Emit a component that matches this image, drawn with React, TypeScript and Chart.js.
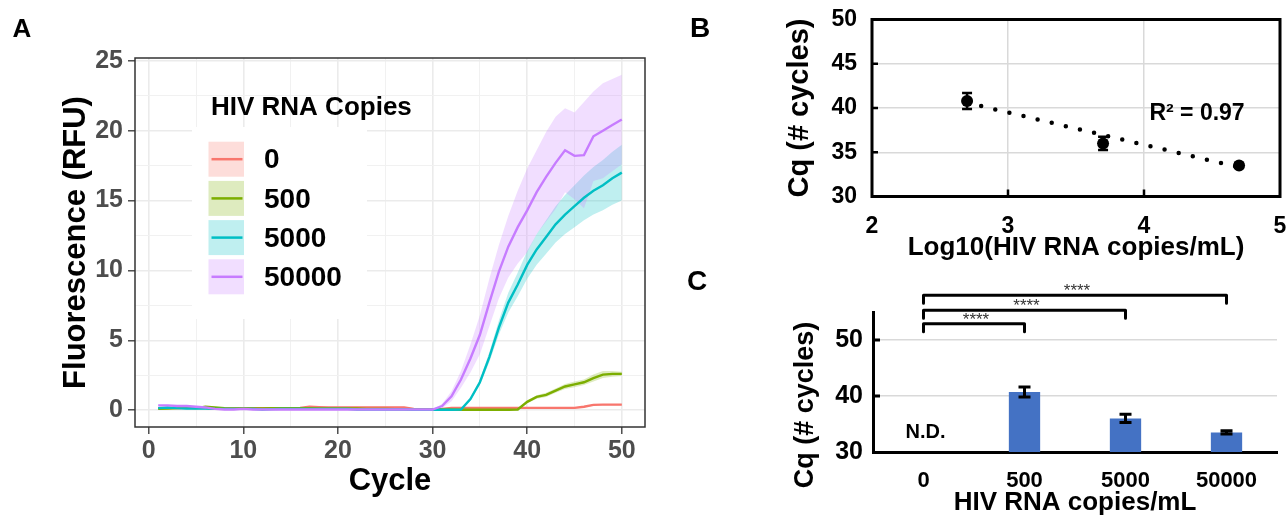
import React, { useEffect, useRef } from 'react';
import { Chart, registerables } from 'chart.js';

Chart.register(...registerables);

const FAMILY = "'Liberation Sans', Arial, Helvetica, sans-serif";

// ---------------- Panel A data ----------------
const cycles = [
  1, 2, 3, 4, 5, 6, 7, 8, 9, 10,
  11, 12, 13, 14, 15, 16, 17, 18, 19, 20,
  21, 22, 23, 24, 25, 26, 27, 28, 29, 30,
  31, 32, 33, 34, 35, 36, 37, 38, 39, 40,
  41, 42, 43, 44, 45, 46, 47, 48, 49, 50,
];
const seriesNames = ['0', '500', '5000', '50000'];
const legendTitle = 'HIV RNA Copies';

const rfu0 = [
  0.15, 0.15, 0.15, 0.15, 0.15, 0.15, 0.12, 0.12, 0.12, 0.14,
  0.14, 0.14, 0.14, 0.14, 0.15, 0.16, 0.25, 0.22, 0.2, 0.2,
  0.2, 0.2, 0.2, 0.2, 0.2, 0.2, 0.2, 0.1, 0.08, 0.08,
  0.1, 0.17, 0.17, 0.17, 0.17, 0.17, 0.17, 0.17, 0.17, 0.17,
  0.17, 0.17, 0.17, 0.17, 0.17, 0.25, 0.38, 0.4, 0.4, 0.4,
];
const rfu500 = [
  0.1, 0.12, 0.15, 0.2, 0.15, 0.25, 0.2, 0.15, 0.12, 0.12,
  0.12, 0.12, 0.15, 0.15, 0.15, 0.15, 0.15, 0.12, 0.12, 0.12,
  0.12, 0.12, 0.1, 0.1, 0.1, 0.08, 0.08, 0.05, 0.05, 0.05,
  0.05, 0.05, 0.03, 0.03, 0.03, 0.03, 0.03, 0.03, 0.05, 0.6,
  0.95, 1.1, 1.4, 1.7, 1.85, 2.0, 2.3, 2.55, 2.6, 2.6,
];
const rfu5000 = [
  0.15, 0.2, 0.15, 0.12, 0.12, 0.12, 0.1, 0.1, 0.1, 0.1,
  0.1, 0.05, 0.08, 0.1, 0.1, 0.1, 0.1, 0.1, 0.1, 0.1,
  0.1, 0.05, 0.05, 0.05, 0.05, 0.05, 0.05, 0.03, 0.03, 0.03,
  0.03, 0.03, 0.05, 0.8, 2.0, 3.8, 5.9, 7.7, 9.0, 10.4,
  11.5, 12.4, 13.3, 14.0, 14.6, 15.2, 15.7, 16.1, 16.6, 17.0,
];
const rfu50000 = [
  0.35, 0.35, 0.3, 0.3, 0.25, 0.2, 0.1, 0.05, 0.05, 0.1,
  0.05, 0.05, 0.05, 0.05, 0.05, 0.05, 0.05, 0.05, 0.05, 0.05,
  0.05, 0.05, 0.05, 0.05, 0.05, 0.05, 0.05, 0.05, 0.05, 0.05,
  0.3, 1.0, 2.2, 3.7, 5.4, 7.7, 9.9, 11.7, 13.1, 14.3,
  15.6, 16.7, 17.7, 18.6, 18.2, 18.25, 19.6, 20.0, 20.4, 20.8,
];
const sd0 = [
  0.04, 0.04, 0.04, 0.04, 0.04, 0.04, 0.04, 0.04, 0.04, 0.04,
  0.04, 0.04, 0.04, 0.04, 0.04, 0.04, 0.04, 0.04, 0.04, 0.04,
  0.04, 0.04, 0.04, 0.04, 0.04, 0.04, 0.04, 0.04, 0.04, 0.04,
  0.04, 0.04, 0.04, 0.04, 0.04, 0.04, 0.04, 0.04, 0.04, 0.04,
  0.04, 0.04, 0.04, 0.04, 0.04, 0.05, 0.05, 0.05, 0.05, 0.05,
];
const sd500 = [
  0, 0, 0, 0, 0, 0, 0, 0, 0, 0,
  0, 0, 0, 0, 0, 0, 0, 0, 0, 0,
  0, 0, 0, 0, 0, 0, 0, 0, 0, 0,
  0, 0, 0, 0, 0, 0, 0, 0, 0.02, 0.1,
  0.12, 0.15, 0.15, 0.18, 0.2, 0.2, 0.25, 0.25, 0.2, 0.15,
];
const sd5000 = [
  0, 0, 0, 0, 0, 0, 0, 0, 0, 0,
  0, 0, 0, 0, 0, 0, 0, 0, 0, 0,
  0, 0, 0, 0, 0, 0, 0, 0, 0, 0,
  0, 0, 0, 0.1, 0.2, 0.35, 0.5, 0.7, 0.85, 1.0,
  1.1, 1.2, 1.3, 1.4, 1.5, 1.6, 1.7, 1.8, 1.9, 2.0,
];
const sd50000 = [
  0, 0, 0, 0, 0, 0, 0, 0, 0, 0,
  0, 0, 0, 0, 0, 0, 0, 0, 0, 0,
  0, 0, 0, 0, 0, 0, 0, 0, 0, 0,
  0.15, 0.35, 0.6, 1.0, 1.4, 1.7, 1.9, 2.2, 2.6, 3.0,
  3.0, 3.2, 3.3, 3.0, 3.1, 3.8, 3.2, 3.4, 3.3, 3.2,
];
const xTicksA = [0, 5, 10, 15, 20, 25, 30, 35, 40, 45, 50];
const yTicksA = [0, 2.5, 5, 7.5, 10, 12.5, 15, 17.5, 20, 22.5, 25];

// ---------------- Panel B data ----------------
const logCopies = [2.699, 3.699, 4.699];
const cqMeanB = [40.8, 36.0, 33.5];
const cqErrB = [0.9, 0.75, 0.25];
const trendX = [2.699, 4.699];
const trendY = [40.6, 33.3];
const xTicksB = [2, 3, 4, 5];
const yTicksB = [30, 35, 40, 45, 50];
const r2Label = 'R\u00B2 = 0.97';
const r2At = [4.39, 39.4];

// ---------------- Panel C data ----------------
const copyLabels = ['0', '500', '5000', '50000'];
const cqMeanC = [null, 40.7, 36.0, 33.5];
const cqErrC = [0, 0.9, 0.75, 0.3];
const yTicksC = [30, 40, 50];
const bracketTo = [1, 2, 3];
const bracketLevel = [52.9, 55.3, 58.0];
const bracketText = ['****', '****', '****'];
const ndLabel = 'N.D.';
const ndLevel = 33.4;

// ---------------- styles ----------------
const lineColors = ['#F8766D', '#7CAE00', '#00BFC4', '#C77CFF'];
const bandColors = [
  'rgba(248,118,109,0.25)',
  'rgba(124,174,0,0.25)',
  'rgba(0,191,196,0.25)',
  'rgba(199,124,255,0.25)',
];
const barColor = '#4472C4';

const font = (size: number) => ({ family: FAMILY, size, weight: 'bold' as const });

// ---------------- Panel A ----------------
const panelAPlugin = {
  id: 'panelA',
  afterDraw(chart: any) {
    const { ctx, chartArea: a } = chart;
    ctx.save();
    ctx.strokeStyle = '#333333';
    ctx.lineWidth = 1.5;
    ctx.strokeRect(a.left, a.top, a.right - a.left, a.bottom - a.top);
    // legend
    ctx.fillStyle = '#ffffff';
    ctx.fillRect(192, 127, 175, 192);
    ctx.fillStyle = '#000000';
    ctx.textAlign = 'left';
    ctx.textBaseline = 'middle';
    ctx.font = `bold 26px ${FAMILY}`;
    ctx.fillText(legendTitle, 211, 108);
    ctx.font = `bold 28px ${FAMILY}`;
    seriesNames.forEach((name, i) => {
      const top = 141.7 + i * 39.2;
      ctx.fillStyle = bandColors[i];
      ctx.fillRect(208.5, top, 35.5, 35);
      ctx.strokeStyle = lineColors[i];
      ctx.lineWidth = 2.5;
      ctx.beginPath();
      ctx.moveTo(211.5, top + 17.5);
      ctx.lineTo(242.5, top + 17.5);
      ctx.stroke();
      ctx.fillStyle = '#000000';
      ctx.fillText(name, 264, top + 19);
    });
    ctx.restore();
  },
};

function makeA(): any {
  const means = [rfu0, rfu500, rfu5000, rfu50000];
  const sds = [sd0, sd500, sd5000, sd50000];
  const datasets: any[] = [];
  means.forEach((m, s) => {
    datasets.push({
      type: 'line',
      label: seriesNames[s] + ' upper',
      data: cycles.map((c, i) => ({ x: c, y: m[i] + sds[s][i] })),
      borderColor: 'rgba(0,0,0,0)',
      borderWidth: 0,
      pointRadius: 0,
      backgroundColor: bandColors[s],
      fill: '+1',
      order: 14 - s,
    });
    datasets.push({
      type: 'line',
      label: seriesNames[s] + ' lower',
      data: cycles.map((c, i) => ({ x: c, y: m[i] - sds[s][i] })),
      borderColor: 'rgba(0,0,0,0)',
      borderWidth: 0,
      pointRadius: 0,
      fill: false,
      order: 14 - s,
    });
  });
  means.forEach((m, s) => {
    datasets.push({
      type: 'line',
      label: seriesNames[s],
      data: cycles.map((c, i) => ({ x: c, y: m[i] })),
      borderColor: lineColors[s],
      borderWidth: 2.4,
      pointRadius: 0,
      fill: false,
      order: 4 - s,
    });
  });
  const major10 = (c: any) => c.tick && c.tick.value % 10 === 0;
  const major5 = (c: any) => c.tick && c.tick.value % 5 === 0;
  return {
    type: 'line',
    data: { datasets },
    options: {
      responsive: false,
      animation: false,
      devicePixelRatio: 1,
      events: [],
      layout: { padding: { left: 0, right: 15, top: 58, bottom: 0 } },
      plugins: { legend: { display: false }, tooltip: { enabled: false } },
      scales: {
        x: {
          type: 'linear',
          min: -1.45,
          max: 52.45,
          afterBuildTicks: (sc: any) => {
            sc.ticks = xTicksA.map((v) => ({ value: v }));
          },
          afterFit: (sc: any) => {
            sc.height = 96;
            sc.paddingLeft = 0;
            sc.paddingRight = 0;
          },
          ticks: {
            autoSkip: false,
            maxRotation: 0,
            padding: 2,
            color: '#4D4D4D',
            font: font(25),
            callback: (v: number) => (v % 10 === 0 ? String(v) : ''),
          },
          grid: {
            color: (c: any) => (major10(c) ? '#EBEBEB' : '#F1F1F1'),
            lineWidth: (c: any) => (major10(c) ? 1.6 : 1),
            tickColor: (c: any) => (major10(c) ? '#333333' : 'rgba(0,0,0,0)'),
            tickLength: 7,
            tickWidth: 1.3,
          },
          border: { display: false },
          title: {
            display: true,
            text: 'Cycle',
            color: '#000',
            font: font(31),
            padding: { top: 0, bottom: 23 },
          },
        },
        y: {
          type: 'linear',
          min: -1.2,
          max: 25.2,
          afterBuildTicks: (sc: any) => {
            sc.ticks = yTicksA.map((v) => ({ value: v }));
          },
          afterFit: (sc: any) => {
            sc.width = 135;
            sc.paddingTop = 0;
            sc.paddingBottom = 0;
          },
          ticks: {
            autoSkip: false,
            padding: 5,
            color: '#4D4D4D',
            font: font(25),
            callback: (v: number) => (v % 5 === 0 ? String(v) : ''),
          },
          grid: {
            color: (c: any) => (major5(c) ? '#EBEBEB' : '#F1F1F1'),
            lineWidth: (c: any) => (major5(c) ? 1.6 : 1),
            tickColor: (c: any) => (major5(c) ? '#333333' : 'rgba(0,0,0,0)'),
            tickLength: 7,
            tickWidth: 1.3,
          },
          border: { display: false },
          title: {
            display: true,
            text: 'Fluorescence (RFU)',
            color: '#000',
            font: font(31),
            padding: { top: 58, bottom: 0 },
          },
        },
      },
    },
    plugins: [panelAPlugin],
  };
}

// ---------------- Panel B ----------------
const panelBPlugin = {
  id: 'panelB',
  afterDatasetsDraw(chart: any) {
    const { ctx } = chart;
    const { x, y } = chart.scales;
    ctx.save();
    ctx.strokeStyle = '#000';
    ctx.lineWidth = 2.5;
    logCopies.forEach((lx, i) => {
      const px = x.getPixelForValue(lx);
      const t = y.getPixelForValue(cqMeanB[i] + cqErrB[i]);
      const b = y.getPixelForValue(cqMeanB[i] - cqErrB[i]);
      ctx.beginPath();
      ctx.moveTo(px, t);
      ctx.lineTo(px, b);
      ctx.moveTo(px - 5, t);
      ctx.lineTo(px + 5, t);
      ctx.moveTo(px - 5, b);
      ctx.lineTo(px + 5, b);
      ctx.stroke();
    });
    ctx.restore();
  },
  afterDraw(chart: any) {
    const { ctx, chartArea: a } = chart;
    const { x, y } = chart.scales;
    ctx.save();
    ctx.strokeStyle = '#000';
    ctx.lineWidth = 3;
    ctx.strokeRect(a.left, a.top, a.right - a.left, a.bottom - a.top);
    ctx.lineWidth = 2.5;
    ctx.beginPath();
    yTicksB.slice(1, -1).forEach((v) => {
      const py = y.getPixelForValue(v);
      ctx.moveTo(a.left, py);
      ctx.lineTo(a.left + 6, py);
    });
    xTicksB.slice(1, -1).forEach((v) => {
      const px = x.getPixelForValue(v);
      ctx.moveTo(px, a.bottom);
      ctx.lineTo(px, a.bottom - 7);
    });
    ctx.stroke();
    ctx.fillStyle = '#000';
    ctx.font = `bold 23px ${FAMILY}`;
    ctx.textAlign = 'center';
    ctx.textBaseline = 'middle';
    ctx.fillText(r2Label, x.getPixelForValue(r2At[0]), y.getPixelForValue(r2At[1]));
    ctx.restore();
  },
};

function makeB(): any {
  const inner = (vals: number[]) => (c: any) =>
    c.tick && vals.slice(1, -1).includes(c.tick.value) ? '#D9D9D9' : 'rgba(0,0,0,0)';
  return {
    type: 'scatter',
    data: {
      datasets: [
        {
          type: 'scatter',
          label: 'Cq',
          data: logCopies.map((lx, i) => ({ x: lx, y: cqMeanB[i] })),
          pointRadius: 6,
          backgroundColor: '#000',
          borderColor: '#000',
          borderWidth: 0,
          order: 1,
        },
        {
          type: 'line',
          label: 'trend',
          data: trendX.map((tx, i) => ({ x: tx, y: trendY[i] })),
          borderColor: '#000',
          borderWidth: 4.5,
          borderDash: [0, 14.5],
          borderCapStyle: 'round',
          pointRadius: 0,
          fill: false,
          order: 2,
        },
      ],
    },
    options: {
      responsive: false,
      animation: false,
      devicePixelRatio: 1,
      events: [],
      layout: { padding: { left: 0, right: 7, top: 19.5, bottom: 0 } },
      plugins: { legend: { display: false }, tooltip: { enabled: false } },
      scales: {
        x: {
          type: 'linear',
          min: 2,
          max: 5,
          afterBuildTicks: (sc: any) => {
            sc.ticks = xTicksB.map((v) => ({ value: v }));
          },
          afterFit: (sc: any) => {
            sc.height = 73.5;
            sc.paddingLeft = 0;
            sc.paddingRight = 0;
          },
          ticks: { autoSkip: false, maxRotation: 0, padding: 16.7, color: '#000', font: font(23) },
          grid: { color: inner(xTicksB), lineWidth: 1.5, drawTicks: false },
          border: { display: false },
          title: {
            display: true,
            text: 'Log10(HIV RNA copies/mL)',
            color: '#000',
            font: font(26),
            padding: { top: 0, bottom: 6.4 },
          },
        },
        y: {
          type: 'linear',
          min: 30,
          max: 50,
          afterBuildTicks: (sc: any) => {
            sc.ticks = yTicksB.map((v) => ({ value: v }));
          },
          afterFit: (sc: any) => {
            sc.width = 192;
            sc.paddingTop = 0;
            sc.paddingBottom = 0;
          },
          ticks: { autoSkip: false, padding: 15, color: '#000', font: font(23) },
          grid: { color: inner(yTicksB), lineWidth: 1.5, drawTicks: false },
          border: { display: false },
          title: {
            display: true,
            text: 'Cq (# cycles)',
            color: '#000',
            font: font(29),
            padding: { top: 102.6, bottom: 0 },
          },
        },
      },
    },
    plugins: [panelBPlugin],
  };
}

// ---------------- Panel C ----------------
const panelCPlugin = {
  id: 'panelC',
  afterDatasetsDraw(chart: any) {
    const { ctx } = chart;
    const { x, y } = chart.scales;
    ctx.save();
    ctx.strokeStyle = '#000';
    ctx.lineWidth = 3;
    cqMeanC.forEach((m, i) => {
      if (m == null) return;
      const px = x.getPixelForValue(i);
      const t = y.getPixelForValue(m + cqErrC[i]);
      const b = y.getPixelForValue(m - cqErrC[i]);
      ctx.beginPath();
      ctx.moveTo(px, t);
      ctx.lineTo(px, b);
      ctx.moveTo(px - 6, t);
      ctx.lineTo(px + 6, t);
      ctx.moveTo(px - 6, b);
      ctx.lineTo(px + 6, b);
      ctx.stroke();
    });
    ctx.restore();
  },
  afterDraw(chart: any) {
    const { ctx, chartArea: a } = chart;
    const { x, y } = chart.scales;
    ctx.save();
    // inner ticks on y axis
    ctx.strokeStyle = '#000';
    ctx.lineWidth = 3;
    ctx.beginPath();
    yTicksC.slice(1).forEach((v) => {
      const py = y.getPixelForValue(v);
      ctx.moveTo(a.left, py);
      ctx.lineTo(a.left + 7, py);
    });
    ctx.stroke();
    // brackets
    ctx.lineJoin = 'round';
    ctx.lineCap = 'round';
    const x0 = x.getPixelForValue(0);
    bracketTo.forEach((to, k) => {
      const x2 = x.getPixelForValue(to);
      const yl = y.getPixelForValue(bracketLevel[k]);
      ctx.beginPath();
      ctx.moveTo(x0, yl + 8);
      ctx.lineTo(x0, yl);
      ctx.lineTo(x2, yl);
      ctx.lineTo(x2, yl + 8);
      ctx.stroke();
      ctx.fillStyle = '#333';
      ctx.font = `17px ${FAMILY}`;
      ctx.textAlign = 'center';
      ctx.textBaseline = 'alphabetic';
      ctx.fillText(bracketText[k], (x0 + x2) / 2 + 2, yl + 1);
    });
    // N.D.
    ctx.fillStyle = '#000';
    ctx.font = `bold 20px ${FAMILY}`;
    ctx.textAlign = 'center';
    ctx.textBaseline = 'middle';
    ctx.fillText(ndLabel, x0 + 2, y.getPixelForValue(ndLevel));
    // y-axis title
    ctx.translate(126, 135);
    ctx.rotate(-Math.PI / 2);
    ctx.font = `bold 27px ${FAMILY}`;
    ctx.fillText('Cq (# cycles)', 0, 0);
    ctx.restore();
  },
};

function makeC(): any {
  return {
    type: 'bar',
    data: {
      labels: copyLabels,
      datasets: [
        {
          label: 'Cq',
          data: cqMeanC,
          backgroundColor: barColor,
          barPercentage: 0.31,
          categoryPercentage: 1,
        },
      ],
    },
    options: {
      responsive: false,
      animation: false,
      devicePixelRatio: 1,
      events: [],
      layout: { padding: { left: 0, right: 10, top: 42, bottom: 0 } },
      plugins: { legend: { display: false }, tooltip: { enabled: false } },
      scales: {
        x: {
          type: 'category',
          afterFit: (sc: any) => {
            sc.height = 71;
            sc.paddingLeft = 0;
            sc.paddingRight = 0;
          },
          ticks: { autoSkip: false, maxRotation: 0, padding: 15.5, color: '#000', font: font(22) },
          grid: { display: false, drawTicks: false },
          border: { display: true, color: '#000', width: 3 },
          title: {
            display: true,
            text: 'HIV RNA copies/mL',
            color: '#000',
            font: font(26),
            padding: { top: 0, bottom: 4.4 },
          },
        },
        y: {
          type: 'linear',
          min: 30,
          max: 55,
          afterBuildTicks: (sc: any) => {
            sc.ticks = yTicksC.map((v) => ({ value: v }));
          },
          afterFit: (sc: any) => {
            sc.width = 193;
            sc.paddingTop = 0;
            sc.paddingBottom = 0;
          },
          ticks: { autoSkip: false, padding: 10, color: '#000', font: font(25) },
          grid: {
            color: (c: any) => (c.tick && c.tick.value > 30 ? '#D9D9D9' : 'rgba(0,0,0,0)'),
            lineWidth: 1.5,
            drawTicks: false,
          },
          border: { display: true, color: '#000', width: 3 },
        },
      },
    },
    plugins: [panelCPlugin],
  };
}

const letter = (left: number, top: number, size: number): React.CSSProperties => ({
  position: 'absolute',
  left,
  top,
  fontFamily: FAMILY,
  fontWeight: 'bold',
  fontSize: size,
  lineHeight: `${size}px`,
  color: '#000',
  margin: 0,
});

export default function App() {
  const aRef = useRef<HTMLCanvasElement>(null);
  const bRef = useRef<HTMLCanvasElement>(null);
  const cRef = useRef<HTMLCanvasElement>(null);

  useEffect(() => {
    const a = new Chart(aRef.current as HTMLCanvasElement, makeA());
    const b = new Chart(bRef.current as HTMLCanvasElement, makeB());
    const c = new Chart(cRef.current as HTMLCanvasElement, makeC());
    return () => {
      a.destroy();
      b.destroy();
      c.destroy();
    };
  }, []);

  return (
    <div
      style={{
        position: 'fixed',
        left: 0,
        top: 0,
        width: 1287,
        height: 523,
        background: '#ffffff',
        overflow: 'hidden',
      }}
    >
      <canvas
        ref={aRef}
        width={660}
        height={523}
        style={{ position: 'absolute', left: 0, top: 0, width: 660, height: 523 }}
      />
      <canvas
        ref={bRef}
        width={607}
        height={270}
        style={{ position: 'absolute', left: 680, top: 0, width: 607, height: 270 }}
      />
      <canvas
        ref={cRef}
        width={607}
        height={253}
        style={{ position: 'absolute', left: 680, top: 270, width: 607, height: 253 }}
      />
      <div style={letter(12.6, 15.3, 26)}>A</div>
      <div style={letter(690, 14.3, 28)}>B</div>
      <div style={letter(687, 267, 28)}>C</div>
    </div>
  );
}
